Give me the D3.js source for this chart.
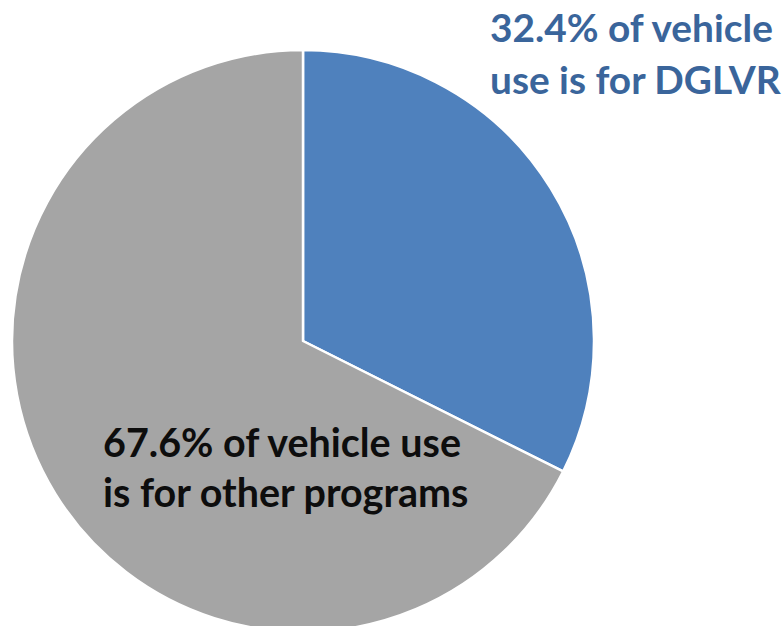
<!DOCTYPE html>
<html>
<head>
<meta charset="utf-8">
<script src="https://cdn.jsdelivr.net/npm/d3@7"></script>
<style>
  html, body { margin: 0; padding: 0; background: #fff; overflow: hidden; }
  svg { display: block; }
</style>
</head>
<body>
<div id="chart"></div>
<script>
// Vehicle use share
const categories = ["DGLVR", "Other programs"];
const values = [32.4, 67.6];
const colors = ["#4F81BD", "#A5A5A5"];
const blueLabel = ["32.4% of vehicle", "use is for DGLVR"];
const greyLabel = ["67.6% of vehicle use", "is for other programs"];

const width = 782, height = 626;
const cx = 303, cy = 341, radius = 291;

const svg = d3.select("#chart")
  .append("svg")
  .attr("width", width)
  .attr("height", height);

const pie = d3.pie().sort(null).value(d => d)(values);
const arc = d3.arc().innerRadius(0).outerRadius(radius);

// Slices
svg.append("g")
  .attr("transform", `translate(${cx},${cy})`)
  .selectAll("path")
  .data(pie)
  .join("path")
  .attr("d", arc)
  .attr("fill", (d, i) => colors[i])
  .attr("stroke", "#fff")
  .attr("stroke-width", 2.5)
  .attr("stroke-linejoin", "round");

// Fit a two-line label so the first line spans the given width
function addLabel(lines, x, y, lineGap, targetWidth, color) {
  const t = svg.append("text")
    .attr("font-family", "Lato, 'Open Sans', sans-serif")
    .attr("font-weight", "bold")
    .attr("font-size", 36)
    .attr("fill", color);
  lines.forEach((s, i) => {
    t.append("tspan").attr("x", x).attr("y", y + i * lineGap).text(s);
  });
  const w = t.select("tspan").node().getComputedTextLength();
  t.attr("font-size", 36 * targetWidth / w);
}

addLabel(blueLabel, 490, 42, 52, 283, "#3A659B");
addLabel(greyLabel, 103, 457, 50, 358, "#0D0D0D");
</script>
</body>
</html>
